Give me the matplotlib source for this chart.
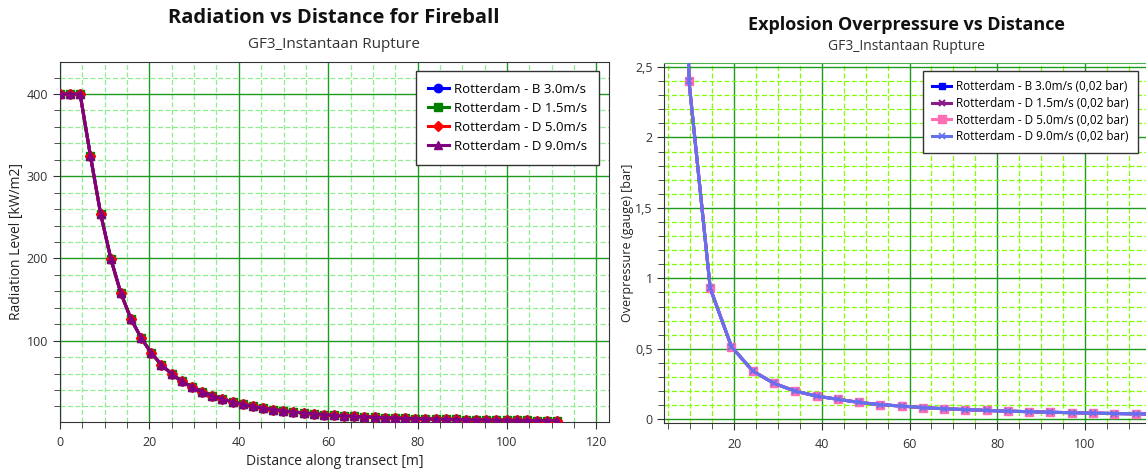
import matplotlib
matplotlib.use("Agg")
import matplotlib.pyplot as plt
from matplotlib.ticker import MultipleLocator, FuncFormatter

plt.rcParams['font.family'] = ['Open Sans', 'DejaVu Sans']

# --- data: fireball radiation ---
rad_dist = [0, 2.3, 4.5, 6.8, 9.1, 11.4, 13.6, 15.9, 18.2, 20.4,
            22.7, 25.0, 27.2, 29.5, 31.8, 34.1, 36.3, 38.6, 40.9, 43.1,
            45.4, 47.7, 49.9, 52.2, 54.5, 56.8, 59.0, 61.3, 63.6, 65.8,
            68.1, 70.4, 72.6, 74.9, 77.2, 79.5, 81.7, 84.0, 86.3, 88.5,
            90.8, 93.1, 95.3, 97.6, 99.9, 102.2, 104.4, 106.7, 109.0, 111.2]
rad_level = [400, 400, 400, 325, 254, 199, 158, 126, 103, 85,
             70.5, 59.5, 50.5, 43.5, 37.5, 33, 29, 25.5, 22.5, 20,
             18, 16.2, 14.6, 13.2, 12, 11, 10, 9.2, 8.5, 7.9,
             7.3, 6.8, 6.3, 5.9, 5.5, 5.2, 4.9, 4.6, 4.3, 4.1,
             3.9, 3.7, 3.5, 3.3, 3.2, 3.0, 2.9, 2.8, 2.7, 2.6]
rad_labels = ["Rotterdam - B 3.0m/s", "Rotterdam - D 1.5m/s",
              "Rotterdam - D 5.0m/s", "Rotterdam - D 9.0m/s"]

# --- data: explosion overpressure ---
op_dist = [4.85, 9.7, 14.55, 19.4, 24.25, 29.1, 33.95, 38.8, 43.65, 48.5,
           53.35, 58.2, 63.05, 67.9, 72.75, 77.6, 82.45, 87.3, 92.15, 97.0,
           101.85, 106.7, 111.55, 116.4]
op_bar = [10.0, 2.4, 0.93, 0.515, 0.343, 0.255, 0.2, 0.165, 0.142, 0.12,
          0.104, 0.094, 0.083, 0.075, 0.069, 0.063, 0.058, 0.054, 0.05, 0.047,
          0.044, 0.041, 0.039, 0.037]
op_labels = ["Rotterdam - B 3.0m/s (0,02 bar)", "Rotterdam - D 1.5m/s (0,02 bar)",
             "Rotterdam - D 5.0m/s (0,02 bar)", "Rotterdam - D 9.0m/s (0,02 bar)"]

W, H = 1146, 473
fig = plt.figure(figsize=(W / 100, H / 100), dpi=100)

def px_box(x0, y0, x1, y1):
    # pixel box (top-left origin) -> figure fraction rect
    return [x0 / W, 1 - y1 / H, (x1 - x0) / W, (y1 - y0) / H]

def style_axes(ax, major_c, minor_c):
    ax.grid(True, which='major', color=major_c, lw=1.0, ls='-', zorder=0)
    ax.grid(True, which='minor', color=minor_c, lw=0.9, ls=(0, (4, 2)), zorder=0)
    ax.set_axisbelow(True)
    ax.tick_params(which='both', direction='out', color='#333333', labelcolor='#333333',
                   labelsize=9)
    ax.tick_params(which='major', length=5)
    ax.tick_params(which='minor', length=4)
    for s in ax.spines.values():
        s.set_color('#333333')

# ---------------- left: radiation ----------------
ax1 = fig.add_axes(px_box(60, 62, 609, 422))
rad_style = [('blue', 'o'), ('green', 's'), ('red', 'D'), ('purple', '^')]
for lab, (c, m) in zip(rad_labels, rad_style):
    ax1.plot(rad_dist, rad_level, color=c, marker=m, markersize=6 if m != 'D' else 5,
             lw=2.2, label=lab, zorder=3)
ax1.set_xlim(0, 122.8)
ax1.set_ylim(1, 439)
ax1.xaxis.set_major_locator(MultipleLocator(20))
ax1.xaxis.set_minor_locator(MultipleLocator(5))
ax1.set_yticks([100, 200, 300, 400])
ax1.yaxis.set_minor_locator(MultipleLocator(20))
style_axes(ax1, '#1e9a1e', '#90ee90')
ax1.tick_params(axis='x', pad=5)
ax1.set_xlabel("Distance along transect [m]", fontsize=10, color='#222222', labelpad=4)
ax1.set_ylabel("Radiation Level [kW/m2]", fontsize=10, color='#222222', labelpad=2)
fig.text(334 / W, 1 - 18 / H, "Radiation vs Distance for Fireball", ha='center', va='center',
         fontsize=14.5, fontweight='bold', color='#111111')
fig.text(334 / W, 1 - 44 / H, "GF3_Instantaan Rupture", ha='center', va='center',
         fontsize=11, color='#333333')
leg1 = ax1.legend(loc='upper right', bbox_to_anchor=(599 / W, 1 - 71 / H),
                  bbox_transform=fig.transFigure, fontsize=9.5, frameon=True, fancybox=False,
                  handlelength=1.6, handletextpad=0.4, borderpad=0.9, labelspacing=0.45,
                  borderaxespad=0)
leg1.get_frame().set_edgecolor('#333333')
leg1.get_frame().set_linewidth(1.0)
leg1.get_frame().set_alpha(1)

# ---------------- right: overpressure ----------------
ax2 = fig.add_axes(px_box(664.4, 62.7, 1166, 422.7))
op_style = [('#0000ff', 's', 5, 1), ('#8b1a8b', 'x', 5, 1.5),
            ('#ff6eb4', 's', 6, 1), ('#6470ee', 'x', 5, 1.2)]
for lab, (c, m, ms, mew) in zip(op_labels, op_style):
    ax2.plot(op_dist, op_bar, color=c, marker=m, markersize=ms, markeredgewidth=mew,
             lw=2.2, label=lab, zorder=3)
ax2.set_xlim(4.1, 118.5)
ax2.set_ylim(-0.024, 2.53)
ax2.xaxis.set_major_locator(MultipleLocator(20))
ax2.xaxis.set_minor_locator(MultipleLocator(5))
ax2.yaxis.set_major_locator(MultipleLocator(0.5))
ax2.yaxis.set_minor_locator(MultipleLocator(0.1))
ax2.yaxis.set_major_formatter(FuncFormatter(lambda v, p: '{:g}'.format(round(v, 2)).replace('.', ',')))
style_axes(ax2, '#1e9a1e', '#80ff00')
ax2.tick_params(axis='x', pad=6)
ax2.spines['right'].set_visible(False)
ax2.spines['top'].set_color('#4caf50')
ax2.set_ylabel("Overpressure (gauge) [bar]", fontsize=9, color='#222222', labelpad=1)
fig.text(906 / W, 1 - 25 / H, "Explosion Overpressure vs Distance", ha='center', va='center',
         fontsize=13, fontweight='bold', color='#111111')
fig.text(906 / W, 1 - 47 / H, "GF3_Instantaan Rupture", ha='center', va='center',
         fontsize=10, color='#333333')
leg2 = ax2.legend(loc='upper right', bbox_to_anchor=(1138 / W, 1 - 71 / H),
                  bbox_transform=fig.transFigure, fontsize=8.5, frameon=True, fancybox=False,
                  handlelength=1.6, handletextpad=0.4, borderpad=0.8, labelspacing=0.3,
                  borderaxespad=0)
leg2.get_frame().set_edgecolor('#333333')
leg2.get_frame().set_linewidth(1.0)
leg2.get_frame().set_alpha(1)

fig.savefig("out.png", dpi=100)
